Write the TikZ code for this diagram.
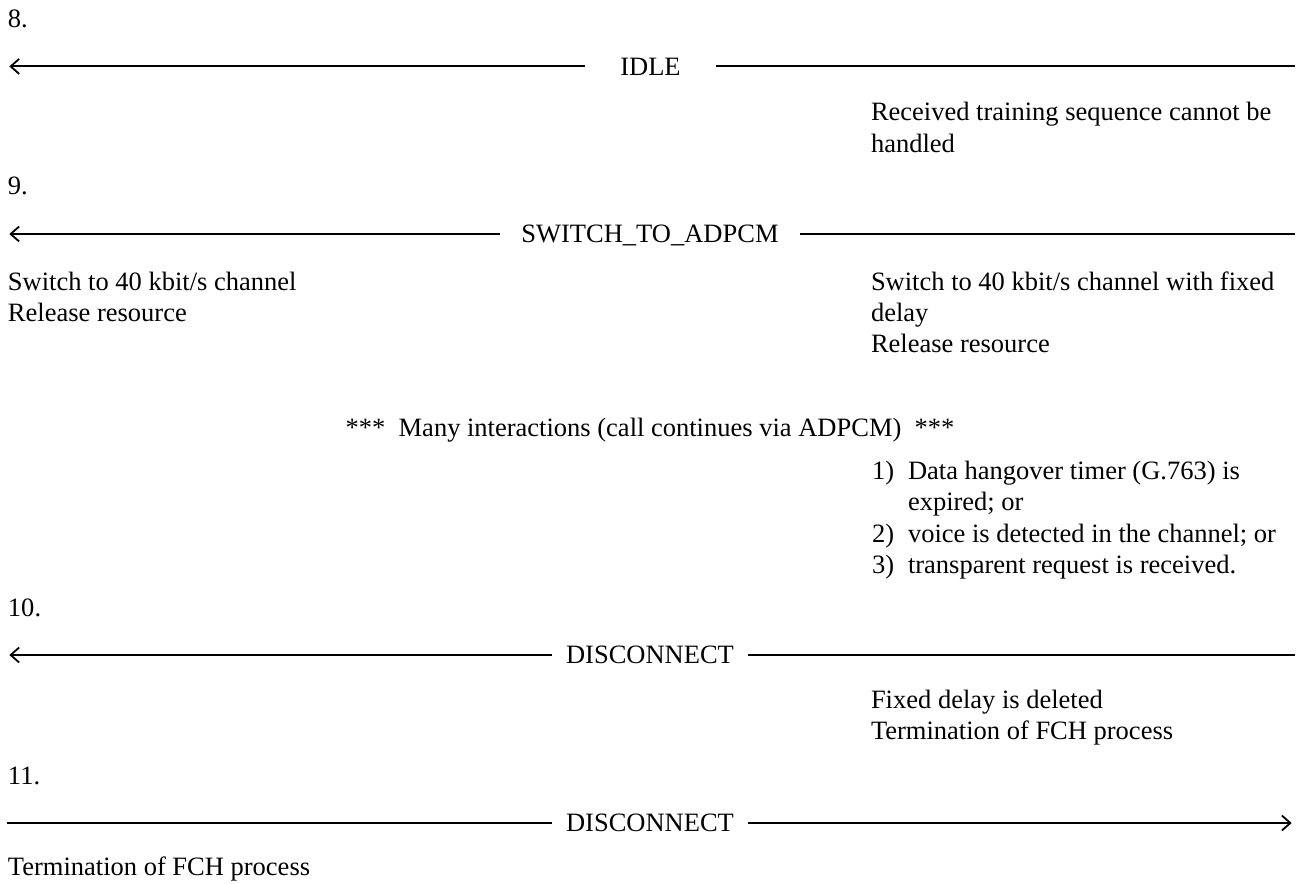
\documentclass[tikz,border=0pt]{standalone}
\usepackage{fontspec}
\setmainfont{Liberation Serif}
\usetikzlibrary{arrows.meta}
\tikzset{
  txt/.style={inner sep=0pt, outer sep=0pt, anchor=base west, font=\fontsize{26.5}{31.5}\selectfont},
  msg/.style={inner sep=0pt, outer sep=0pt, anchor=center, text height=17.5pt, text depth=0pt, font=\fontsize{26.5}{31.5}\selectfont},
  wire/.style={line width=2pt},
  tip/.style={-{Straight Barb[length=8.5pt,width=15pt,line width=1.8pt]}}
}
\begin{document}
\begin{tikzpicture}[x=1pt,y=-1pt]
\useasboundingbox (0,0) rectangle (1297,883);
% step 8
\node[txt] (n8) at (8,28) {8.};
\coordinate (a8L) at (9.3,66.4);
\coordinate (a8R) at (1295,66.4);
\node[msg, minimum width=131pt] (idle) at (650.5,66.4) {IDLE};
\draw[wire] (a8R) -- (idle.east);
\draw[wire,tip] (idle.west) -- (a8L);
\node[txt] (r8a) at (871,120) {Received training sequence cannot be};
\node[txt] (r8b) at (871,152) {handled};
% step 9
\node[txt] (n9) at (8,194) {9.};
\coordinate (a9L) at (9.3,234);
\coordinate (a9R) at (1295,234);
\node[msg, minimum width=300pt] (sw) at (650,234) {SWITCH\_TO\_ADPCM};
\draw[wire] (a9R) -- (sw.east);
\draw[wire,tip] (sw.west) -- (a9L);
\node[txt] (l9a) at (8,290) {Switch to 40 kbit/s channel};
\node[txt] (l9b) at (8,321) {Release resource};
\node[txt] (r9a) at (871,290) {Switch to 40 kbit/s channel with fixed};
\node[txt] (r9b) at (871,321) {delay};
\node[txt] (r9c) at (871,352) {Release resource};
\node[txt, anchor=base] (many) at (650,436) {***\ \ Many interactions (call continues via ADPCM)\ \ ***};
\node[txt] (i1) at (872,479) {1)};
\node[txt] (i1a) at (908,479) {Data hangover timer (G.763) is};
\node[txt] (i1b) at (908,510) {expired; or};
\node[txt] (i2) at (872,542) {2)};
\node[txt] (i2a) at (908,542) {voice is detected in the channel; or};
\node[txt] (i3) at (872,573) {3)};
\node[txt] (i3a) at (908,573) {transparent request is received.};
% step 10
\node[txt] (n10) at (8,616.5) {10.};
\coordinate (a10L) at (9.3,655);
\coordinate (a10R) at (1295,655);
\node[msg, minimum width=196pt] (dc1) at (650,655) {DISCONNECT};
\draw[wire] (a10R) -- (dc1.east);
\draw[wire,tip] (dc1.west) -- (a10L);
\node[txt] (r10a) at (871,708) {Fixed delay is deleted};
\node[txt] (r10b) at (871,739) {Termination of FCH process};
% step 11
\node[txt] (n11) at (8,784) {11.};
\coordinate (a11L) at (6.7,823);
\coordinate (a11R) at (1291.7,823);
\node[msg, minimum width=196pt] (dc2) at (650,823) {DISCONNECT};
\draw[wire] (a11L) -- (dc2.west);
\draw[wire,tip] (dc2.east) -- (a11R);
\node[txt] (l11) at (8,875) {Termination of FCH process};
\end{tikzpicture}
\end{document}
